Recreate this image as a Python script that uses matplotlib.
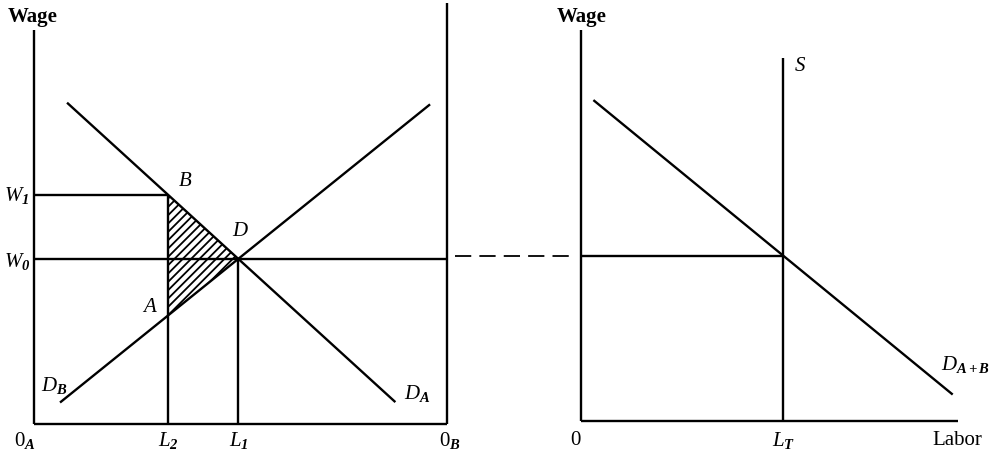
import numpy as np
import matplotlib
matplotlib.use("Agg")
from matplotlib import pyplot as plt

plt.rcParams['font.family'] = 'Liberation Serif'
plt.rcParams['mathtext.fontset'] = 'custom'
plt.rcParams['mathtext.rm'] = 'Liberation Serif'
plt.rcParams['mathtext.it'] = 'Liberation Serif:italic'
plt.rcParams['mathtext.bf'] = 'Liberation Serif:bold:italic'
plt.rcParams['hatch.linewidth'] = 1.3

# left panel (two-country labour split), labour 0_A..0_B = 0..100
W0 = 40.0
W1 = 55.5
L1 = 49.5
L2 = 32.5
dA_L = [8.0, 87.5]
dA_W = [77.8, 5.3]
dB_L = [6.3, 95.9]
dB_W = [5.2, 77.4]
left_top = 95.4
right_top = 102.0

# right panel (total labour)
LT = 49.0
S_top = 88.0
dAB_L = [3.0, 90.0]
dAB_W = [77.7, 6.4]
right_wage_top = 94.7
labor_end = 91.3

B = np.interp(L2, dA_L, dA_W)
A = np.interp(L2, dB_L, dB_W)

lw = 1.7
k = 'black'
fig = plt.figure(figsize=(9.97, 4.56), dpi=100)
scale = 4.13  # pixels per unit
ax1 = fig.add_axes([34/997, 31/456, 413/997, 425/456])
ax1.set_xlim(0, 413/scale)
ax1.set_ylim(0, 425/scale)
ax2 = fig.add_axes([581/997, 34/456, 416/997, 422/456])
ax2.set_xlim(0, 416/scale)
ax2.set_ylim(0, 422/scale)
for ax in (ax1, ax2):
    ax.axis('off')

def line(ax, x, y, **kw):
    ax.plot(x, y, color=k, lw=lw, clip_on=False, solid_capstyle='butt', **kw)

# left panel
line(ax1, [0, 0], [0, left_top])
line(ax1, [0, 100], [0, 0])
line(ax1, [100, 100], [0, right_top])
line(ax1, dA_L, dA_W)
line(ax1, dB_L, dB_W)
line(ax1, [0, L2], [W1, W1])
line(ax1, [0, 100], [W0, W0])
line(ax1, [L2, L2], [0, W1])
line(ax1, [L1, L1], [0, W0])
ax1.fill([L2, L1, L2], [B, W0, A], facecolor='none', edgecolor=k, lw=0,
         hatch='////', clip_on=False)

# right panel
line(ax2, [0, 0], [0, right_wage_top])
line(ax2, [0, labor_end], [0, 0])
line(ax2, [LT, LT], [0, S_top])
line(ax2, [0, LT], [W0, W0])
line(ax2, dAB_L, dAB_W)
ax2.plot([-30.5, -2.7], [W0, W0], color=k, lw=1.3, dashes=(9, 4.5), clip_on=False)

fs = 15
def lab(ax, s, xy, off, ha='center', va='center', **kw):
    ax.annotate(s, xy, xytext=off, textcoords='offset pixels', ha=ha, va=va,
                fontsize=fs, annotation_clip=False, **kw)

lab(ax1, 'Wage', (0, left_top), (-26, 14), ha='left', fontweight='bold')
lab(ax1, r'$W_{\mathbf{1}}$', (0, W1), (-17, 0))
lab(ax1, r'$W_{\mathbf{0}}$', (0, W0), (-17, -2))
lab(ax1, r'$B$', (L2, B), (17, 14))
lab(ax1, r'$D$', (L1, W0), (2, 28))
lab(ax1, r'$A$', (L2, A), (-18, 9))
lab(ax1, r'$D_{\mathbf{B}}$', (dB_L[0], dB_W[0]), (-6, 18))
lab(ax1, r'$D_{\mathbf{A}}$', (dA_L[1], dA_W[1]), (22, 10))
lab(ax1, r'$0_{\mathbf{A}}$', (0, 0), (-9, -16))
lab(ax1, r'$L_{\mathbf{2}}$', (L2, 0), (0, -16))
lab(ax1, r'$L_{\mathbf{1}}$', (L1, 0), (0, -16))
lab(ax1, r'$0_{\mathbf{B}}$', (100, 0), (3, -16))

lab(ax2, 'Wage', (0, right_wage_top), (-24, 14), ha='left', fontweight='bold')
lab(ax2, '0', (0, 0), (-6, -19))
lab(ax2, r'$L_{\mathbf{T}}$', (LT, 0), (0, -19))
lab(ax2, 'Labor', (labor_end, 0), (-1, -19))
lab(ax2, r'$S$', (LT, S_top), (17, -8))
lab(ax2, r'$D_{\mathbf{A+B}}$', (dAB_L[1], dAB_W[1]), (-12, 31), ha='left')

fig.savefig('out.png', dpi=100)
